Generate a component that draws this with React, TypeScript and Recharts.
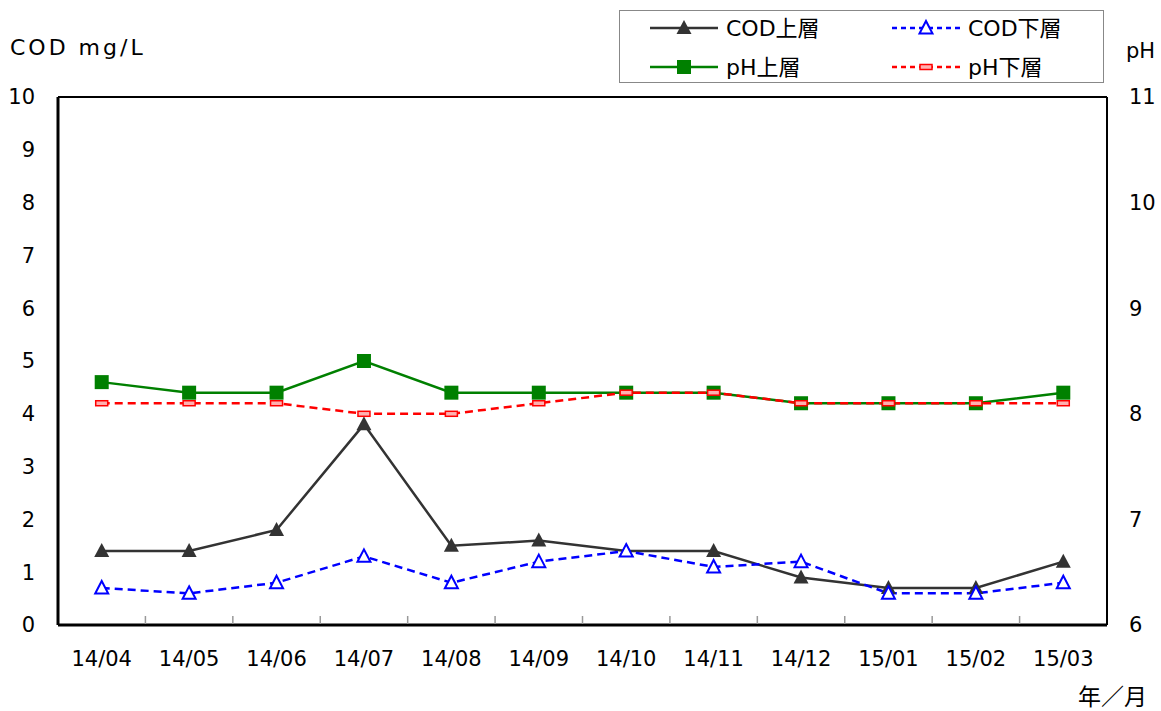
import { ComposedChart, Line, XAxis, YAxis, CartesianGrid, ReferenceLine } from "recharts";

const months = ["14/04", "14/05", "14/06", "14/07", "14/08", "14/09", "14/10", "14/11", "14/12", "15/01", "15/02", "15/03"];
const codTop = [1.4, 1.4, 1.8, 3.8, 1.5, 1.6, 1.4, 1.4, 0.9, 0.7, 0.7, 1.2];
const codBottom = [0.7, 0.6, 0.8, 1.3, 0.8, 1.2, 1.4, 1.1, 1.2, 0.6, 0.6, 0.8];
const phTop = [8.3, 8.2, 8.2, 8.5, 8.2, 8.2, 8.2, 8.2, 8.1, 8.1, 8.1, 8.2];
const phBottom = [8.1, 8.1, 8.1, 8.0, 8.0, 8.1, 8.2, 8.2, 8.1, 8.1, 8.1, 8.1];
const codTicks = [0, 1, 2, 3, 4, 5, 6, 7, 8, 9, 10];
const phTicks = [6, 7, 8, 9, 10, 11];

const data = months.map((m, i) => ({
  month: m, codTop: codTop[i], codBottom: codBottom[i], phTop: phTop[i], phBottom: phBottom[i],
}));

const FONT = "'DejaVu Sans', 'Noto Sans CJK JP', sans-serif";
const W = 1161, H = 711;
const M = { top: 97, right: 0, bottom: 0, left: 0 };
const LEFT_W = 58, RIGHT_W = 54;
const BAND = (W - LEFT_W - RIGHT_W) / months.length;

// ─── markers ──────────────────────────────────────────────────────────────────
const FilledTri = ({ cx, cy }: any) =>
  cx == null ? null : <path d={`M${cx},${cy - 8} L${cx + 7.5},${cy + 6} L${cx - 7.5},${cy + 6} Z`} fill="#333333" />;
const OpenTri = ({ cx, cy }: any) =>
  cx == null ? null : <path d={`M${cx},${cy - 7} L${cx + 6.5},${cy + 5.5} L${cx - 6.5},${cy + 5.5} Z`} fill="#ffffff" stroke="#0000ff" strokeWidth={2} />;
const Square = ({ cx, cy }: any) =>
  cx == null ? null : <rect x={cx - 7} y={cy - 7} width={14} height={14} fill="#008000" />;
const Pill = ({ cx, cy }: any) =>
  cx == null ? null : <rect x={cx - 6} y={cy - 2.5} width={12} height={5} fill="#ffb0b0" stroke="#ff0000" strokeWidth={1.5} />;

const XTick = ({ x, y, payload, index }: any) => (
  <g>
    {index > 0 && <line x1={x - BAND / 2} x2={x - BAND / 2} y1={y - 9} y2={y - 1} stroke="#999" strokeWidth={1.5} />}
    <text x={x} y={y + 41} textAnchor="middle" fontSize={21} fontFamily={FONT} fill="#000">{payload.value}</text>
  </g>
);

function LegendRow({ x, y, color, dash, Marker, label }: any) {
  return (
    <g>
      <line x1={x} x2={x + 68} y1={y} y2={y} stroke={color} strokeWidth={2.5} strokeDasharray={dash} />
      <Marker cx={x + 34} cy={y} />
      <text x={x + 76} y={y + 8} fontSize={22} fontFamily={FONT} fill="#000">{label}</text>
    </g>
  );
}

export default function App() {
  return (
    <div style={{ position: "absolute", left: 0, top: 0, width: W, height: H, background: "#fff", fontFamily: FONT }}>
      <ComposedChart width={W} height={H} data={data} margin={M}>
        <CartesianGrid horizontal vertical={false} stroke="#999" strokeDasharray="2 2" />
        <XAxis dataKey="month" scale="band" tick={<XTick />} tickLine={false} tickSize={0} tickMargin={0}
               axisLine={{ stroke: "#000", strokeWidth: 3 }} height={86} interval={0} />
        <YAxis yAxisId="cod" domain={[0, 10]} ticks={codTicks} width={LEFT_W} tickSize={0} tickMargin={23}
               axisLine={{ stroke: "#000", strokeWidth: 3 }} tick={{ fontSize: 21, fill: "#000", fontFamily: FONT }} interval={0} />
        <YAxis yAxisId="ph" orientation="right" domain={[6, 11]} ticks={phTicks} width={RIGHT_W} tickSize={0} tickMargin={22}
               axisLine={{ stroke: "#000", strokeWidth: 2 }} tick={{ fontSize: 21, fill: "#000", fontFamily: FONT, textAnchor: "start" }} interval={0} />
        <ReferenceLine yAxisId="cod" y={10} stroke="#000" strokeWidth={2} />
        <Line yAxisId="cod" dataKey="codTop" stroke="#333333" strokeWidth={2.5} dot={<FilledTri />} activeDot={false} isAnimationActive={false} />
        <Line yAxisId="cod" dataKey="codBottom" stroke="#0000ff" strokeWidth={2.5} strokeDasharray="8 5" dot={<OpenTri />} activeDot={false} isAnimationActive={false} />
        <Line yAxisId="ph" dataKey="phTop" stroke="#008000" strokeWidth={2.5} dot={<Square />} activeDot={false} isAnimationActive={false} />
        <Line yAxisId="ph" dataKey="phBottom" stroke="#ff0000" strokeWidth={2.5} strokeDasharray="8 5" dot={<Pill />} activeDot={false} isAnimationActive={false} />
      </ComposedChart>
      <svg width={W} height={H} style={{ position: "absolute", left: 0, top: 0, pointerEvents: "none" }}>
        <text x={10} y={55} fontSize={22} letterSpacing={3} fontFamily={FONT} fill="#000">COD mg/L</text>
        <text x={1126} y={58} fontSize={21} fontFamily={FONT} fill="#000">pH</text>
        <text x={1078} y={705} fontSize={23} fontFamily={FONT} fill="#000">年／月</text>
        <rect x={619.5} y={10.5} width={484} height={72} fill="#fff" stroke="#888" strokeWidth={1} />
        <LegendRow x={650} y={28} color="#333333" Marker={FilledTri} label="COD上層" />
        <LegendRow x={892} y={28} color="#0000ff" dash="5 4" Marker={OpenTri} label="COD下層" />
        <LegendRow x={650} y={67} color="#008000" Marker={Square} label="pH上層" />
        <LegendRow x={892} y={67} color="#ff0000" dash="5 4" Marker={Pill} label="pH下層" />
      </svg>
    </div>
  );
}
